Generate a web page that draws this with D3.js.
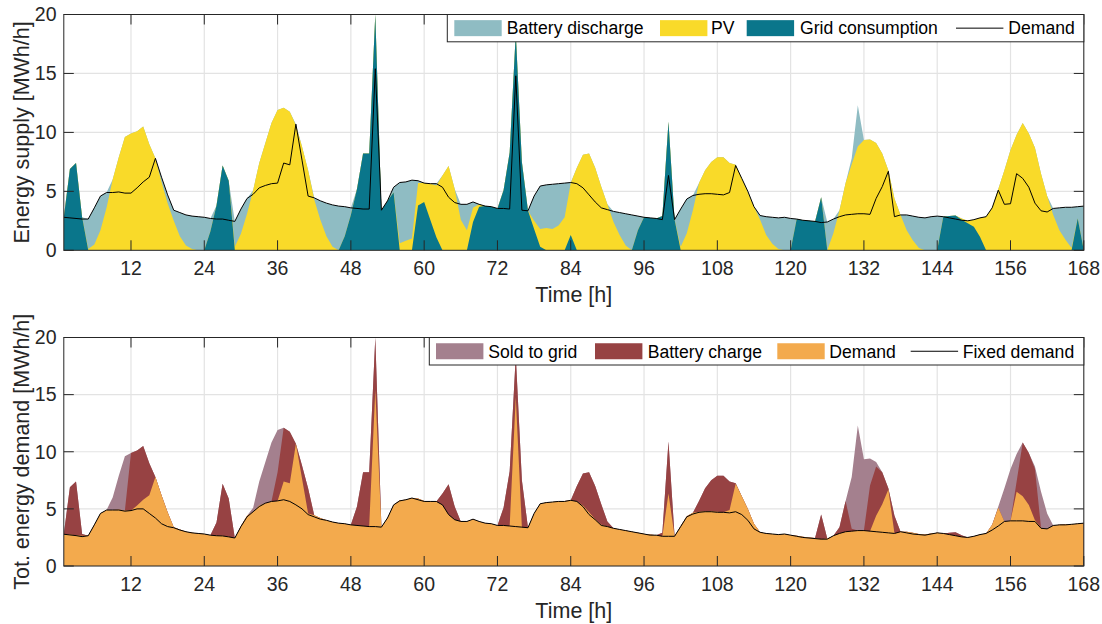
<html>
<head>
<script src="https://d3js.org/d3.v7.min.js"></script>
<style>
  body { margin: 0; background: #fff; }
  svg { font-family: "Liberation Sans", Arial, Helvetica, sans-serif; }
</style>
</head>
<body>
<svg id="plot"></svg>

<script>

// hours 1..168
var hours = d3.range(1, 169);

// top panel: supply (MWh/h), one value per hour, 12 per row
var gridUse = [
  2.8, 6.9, 7.4, 2.8, 0, 0, 0, 0, 0, 0, 0, 0,
  0, 0, 0, 0, 0, 0, 0, 0, 0, 0, 0, 0,
  1.6, 3.8, 7.2, 5.9, 0, 0, 0, 0, 0, 0, 0, 0,
  0, 0, 0, 0, 0, 0, 0, 0, 0, 0, 1.2, 3.0,
  5.2, 8.2, 8.2, 20, 3.4, 4.2, 4.9, 0, 0, 0, 3.8, 4.1,
  2.6, 1.1, 0, 0, 0, 0, 0, 2.4, 3.7, 3.75, 3.7, 3.55,
  5.1, 8.3, 18.4, 7.5, 3.35, 1.8, 0.3, 0, 0, 0, 0, 1.3,
  0, 0, 0, 0, 0, 0, 0, 0, 0, 0, 1.7, 2.8,
  2.75, 2.7, 2.9, 10.9, 2.6, 0, 0, 0, 0, 0, 0, 0,
  0, 0, 0, 0, 0, 0, 0, 0, 0, 0, 0, 0,
  2.65, 2.55, 2.5, 2.45, 4.5, 0, 0, 0, 0, 0, 0, 0,
  0, 0, 0, 0, 0, 0, 0, 0, 0, 0, 0, 0,
  2.85, 2.9, 2.95, 2.6, 2.3, 2.0, 1.15, 0, 0, 0, 0, 0,
  0, 0, 0, 0, 0, 0, 0, 0, 0, 0, 2.7, 0
];

var pv = [
  0, 0, 0, 0, 0.1, 0.5, 1.7, 3.6, 6.0, 7.9, 9.6, 9.9,
  10.1, 10.5, 9.0, 7.8, 5.8, 4.0, 2.5, 1.2, 0.4, 0.1, 0, 0,
  0, 0, 0, 0, 0.3, 1.4, 3.1, 5.1, 7.4, 9.1, 10.8, 11.9,
  12.1, 11.75, 10.6, 8.8, 6.8, 4.3, 2.6, 1.2, 0.3, 0, 0, 0,
  0, 0, 0, 0, 0, 0, 0, 0.6, 0.8, 1.0, 1.9, 1.6,
  3.05, 4.4, 6.35, 7.15, 5.2, 2.6, 1.7, 1.2, 0.2, 0, 0, 0,
  0, 0, 0, 0, 0, 0.7, 1.5, 1.9, 1.8, 2.1, 2.8, 4.4,
  7.0, 8.1, 8.2, 7.0, 5.4, 3.9, 2.4, 1.3, 0.4, 0, 0, 0,
  0, 0, 0, 0, 0, 0.3, 1.45, 3.4, 5.7, 6.8, 7.5, 7.9,
  7.9, 7.4, 7.25, 6.1, 4.9, 3.7, 2.6, 1.3, 0.55, 0.1, 0, 0,
  0, 0, 0, 0, 0, 0, 1.45, 3.4, 5.7, 7.3, 8.8, 9.35,
  9.4, 9.1, 8.2, 6.8, 4.4, 3.0, 1.7, 0.85, 0.2, 0, 0, 0,
  0, 0, 0, 0.1, 0.2, 0.6, 1.6, 2.85, 3.6, 5.2, 6.8, 8.5,
  9.8, 10.8, 9.9, 8.7, 6.5, 4.6, 3.0, 1.7, 0.9, 0.2, 0, 0
];

var discharge = [
  0, 0, 0, 0, 2.55, 3.1, 2.9, 1.3, 0, 0, 0, 0,
  0, 0, 0, 0, 0.4, 0.7, 0.9, 2.0, 2.6, 2.8, 2.85, 2.8,
  1.1, 0, 0, 0, 2.15, 2.1, 1.3, 0, 0, 0, 0, 0,
  0, 0, 0.1, 0, 0, 0.15, 1.6, 2.8, 3.55, 3.75, 2.5, 0.6,
  0, 0, 0, 0, 0, 0, 0.45, 5.15, 5.0, 4.95, 0.2, 0,
  0, 0.15, 0, 0, 0, 1.3, 2.2, 0.5, 0, 0, 0, 0,
  0, 0, 0, 0, 0, 2.1, 3.65, 3.65, 3.8, 3.55, 2.9, 0.05,
  0, 0, 0, 0, 0, 0, 0.9, 1.9, 2.7, 3.0, 1.2, 0,
  0, 0, 0, 0, 0, 3.2, 2.9, 1.25, 0, 0, 0, 0,
  0, 0, 0, 0, 0.1, 0, 0.35, 1.55, 2.25, 2.65, 2.8, 2.7,
  0, 0, 0, 0, 0, 2.4, 1.2, 0, 0, 0.5, 3.5, 0,
  0, 0, 0, 0, 0, 0, 1.3, 2.05, 2.6, 2.75, 2.85, 2.9,
  0, 0, 0, 0, 0, 0, 0, 0, 0, 0, 0, 0,
  0, 0, 0, 0, 0, 0, 0.55, 1.9, 2.75, 3.45, 1.0, 3.75
];

// total demand (line on top, orange area below)
var demand = [
  2.8, 2.75, 2.7, 2.65, 2.65, 3.6, 4.6, 4.9, 4.9, 4.95, 4.85, 4.85,
  5.3, 5.8, 6.2, 7.8, 6.2, 4.7, 3.4, 3.2, 3.0, 2.9, 2.85, 2.8,
  2.7, 2.65, 2.65, 2.55, 2.45, 3.5, 4.4, 4.75, 5.3, 5.5, 5.65, 5.7,
  7.4, 7.25, 10.7, 7.65, 4.6, 4.45, 4.2, 4.0, 3.85, 3.75, 3.7, 3.6,
  3.55, 3.5, 3.5, 15.4, 3.4, 4.2, 5.35, 5.75, 5.8, 5.95, 5.9, 5.7,
  5.65, 5.65, 5.35, 4.5, 4.05, 3.9, 3.9, 4.1, 3.9, 3.75, 3.7, 3.55,
  3.55, 3.5, 14.8, 3.4, 3.35, 4.6, 5.45, 5.55, 5.6, 5.65, 5.7, 5.75,
  5.65, 5.3, 4.7, 4.1, 3.6, 3.45, 3.3, 3.2, 3.1, 3.0, 2.9, 2.8,
  2.75, 2.7, 2.6, 6.35, 2.6, 3.5, 4.35, 4.65, 4.75, 4.8, 4.8, 4.75,
  4.7, 4.9, 7.2, 6.1, 5.0, 3.7, 2.95, 2.85, 2.8, 2.75, 2.8, 2.7,
  2.65, 2.55, 2.5, 2.45, 2.35, 2.4, 2.65, 2.85, 3.0, 3.05, 3.1, 3.1,
  3.05, 4.4, 5.4, 6.7, 2.85, 3.0, 3.0, 2.9, 2.8, 2.75, 2.85, 2.9,
  2.85, 2.75, 2.65, 2.55, 2.5, 2.6, 2.75, 2.85, 3.6, 5.1, 3.9, 3.95,
  6.5, 6.1, 5.35, 4.0, 3.35, 3.25, 3.55, 3.6, 3.65, 3.65, 3.7, 3.75
];

// bottom panel
var fixedDemand = [
  2.78, 2.72, 2.66, 2.57, 2.65, 3.6, 4.6, 4.9, 4.9, 4.9, 4.8, 4.85,
  5.0, 5.0, 4.6, 4.2, 3.7, 3.45, 3.35, 3.15, 3.0, 2.9, 2.85, 2.8,
  2.7, 2.65, 2.63, 2.55, 2.45, 3.45, 4.3, 4.75, 5.2, 5.5, 5.65, 5.7,
  5.8, 5.65, 5.35, 5.0, 4.5, 4.3, 4.1, 4.0, 3.85, 3.75, 3.7, 3.6,
  3.55, 3.5, 3.45, 3.45, 3.4, 4.2, 5.35, 5.7, 5.8, 5.95, 5.8, 5.65,
  5.65, 5.65, 5.35, 4.5, 4.05, 3.9, 3.9, 4.1, 3.9, 3.75, 3.7, 3.55,
  3.55, 3.5, 3.45, 3.4, 3.35, 4.6, 5.45, 5.55, 5.6, 5.65, 5.65, 5.75,
  5.65, 5.2, 4.5, 4.05, 3.55, 3.45, 3.3, 3.2, 3.1, 3.0, 2.9, 2.8,
  2.7, 2.7, 2.6, 2.6, 2.6, 3.45, 4.3, 4.55, 4.7, 4.75, 4.75, 4.7,
  4.7, 4.65, 4.75, 4.5, 4.0, 3.25, 2.95, 2.85, 2.8, 2.75, 2.8, 2.7,
  2.6, 2.5, 2.45, 2.4, 2.35, 2.35, 2.65, 2.85, 3.0, 3.05, 3.1, 3.1,
  3.05, 3.0, 2.95, 2.9, 2.85, 3.0, 2.9, 2.8, 2.75, 2.7, 2.8, 2.9,
  2.85, 2.75, 2.65, 2.55, 2.5, 2.6, 2.75, 2.85, 3.15, 3.5, 3.9, 3.95,
  3.95, 3.95, 3.9, 3.9, 3.3, 3.25, 3.55, 3.6, 3.6, 3.65, 3.7, 3.75
];

var charge = [
  0, 4.15, 4.7, 0.15, 0, 0, 0, 0, 0, 0, 0, 5.05,
  4.8, 4.7, 2.8, 0, 0, 0, 0, 0, 0, 0, 0, 0,
  0, 1.15, 4.55, 3.35, 0, 0, 0, 0, 0, 0, 0, 2.5,
  4.7, 4.5, 0, 1.15, 2.2, 0, 0, 0, 0, 0, 0, 0,
  1.65, 4.7, 4.7, 4.6, 0, 0, 0, 0, 0, 0, 0, 0,
  0, 0, 1.0, 2.65, 1.15, 0, 0, 0, 0, 0, 0, 0,
  1.55, 4.8, 3.6, 4.1, 0, 0, 0, 0, 0, 0, 0, 0,
  1.35, 2.8, 3.5, 2.9, 1.8, 0.45, 0, 0, 0, 0, 0, 0,
  0, 0, 0.3, 4.55, 0, 0, 0, 0, 0.95, 2.0, 2.7, 3.15,
  3.2, 2.5, 0.05, 0, 0, 0, 0, 0, 0, 0, 0, 0,
  0, 0, 0, 0, 2.15, 0, 0, 0.55, 2.7, 0.2, 0, 0,
  4.0, 4.3, 2.8, 0.1, 1.55, 0, 0, 0, 0, 0, 0, 0,
  0, 0.15, 0.3, 0.15, 0, 0, 0, 0, 0, 0, 0, 0,
  0.9, 4.7, 4.55, 4.5, 0, 0, 0, 0, 0, 0, 0, 0
];

var sold = [
  0, 0, 0, 0, 0, 0, 0, 0, 1.1, 2.95, 4.75, 0,
  0, 0, 0, 0, 0, 0, 0, 0, 0, 0, 0, 0,
  0, 0, 0, 0, 0, 0, 0, 0.35, 2.1, 3.6, 5.15, 3.7,
  0, 0, 0, 0, 0, 0, 0, 0, 0, 0, 0, 0,
  0, 0, 0, 0, 0, 0, 0, 0, 0, 0, 0, 0,
  0, 0, 0, 0, 0, 0, 0, 0, 0, 0, 0, 0,
  0, 0, 0, 0, 0, 0, 0, 0, 0, 0, 0, 0,
  0, 0, 0, 0, 0, 0, 0, 0, 0, 0, 0, 0,
  0, 0, 0, 0, 0, 0, 0, 0, 0, 0, 0, 0,
  0, 0, 0, 0, 0, 0, 0, 0, 0, 0, 0, 0,
  0, 0, 0, 0, 0, 0, 0, 0, 0, 4.55, 9.2, 6.25,
  2.35, 0.4, 0, 0, 0, 0, 0, 0, 0, 0, 0, 0,
  0, 0, 0, 0, 0, 0, 0, 0, 0, 0.1, 2.9, 4.55,
  2.4, 0, 0, 0.2, 3.15, 1.35, 0, 0, 0, 0, 0, 0
];

var xTicks = d3.range(12, 169, 12);
var yTicks = [0, 5, 10, 15, 20];

var colors = {
  discharge: "#8fbcc3",
  pv: "#f9da29",
  grid: "#0a768b",
  sold: "#a4808e",
  charge: "#974243",
  demand: "#f3aa4d"
};

// one row per hour
var rows = hours.map(function(h, i) {
  return {
    hour: h,
    grid: gridUse[i],
    pv: pv[i],
    discharge: discharge[i],
    demand: demand[i],
    charge: charge[i],
    sold: sold[i],
    fixed: fixedDemand[i]
  };
});

var width = 1102;
var height = 624;
var left = 63.8;
var right = 1083.8;

var svg = d3.select("#plot")
    .attr("width", width)
    .attr("height", height);

var xScale = d3.scaleLinear()
    .domain([1, 168])
    .range([left, right]);

var axisColor = "#262626";

var drawPanel = function(p)
{
    var yScale = d3.scaleLinear()
        .domain([0, 20])
        .range([p.bottom, p.top]);

    var g = svg.append("g");

    // grid
    g.selectAll(".vgrid")
        .data(xTicks)
        .enter()
        .append("line")
        .attr("x1", function(d) { return xScale(d); })
        .attr("x2", function(d) { return xScale(d); })
        .attr("y1", p.top)
        .attr("y2", p.bottom)
        .attr("stroke", "#e3e3e3")
        .attr("stroke-width", 1.2);

    g.selectAll(".hgrid")
        .data(yTicks)
        .enter()
        .append("line")
        .attr("x1", left)
        .attr("x2", right)
        .attr("y1", function(d) { return yScale(d); })
        .attr("y2", function(d) { return yScale(d); })
        .attr("stroke", "#e3e3e3")
        .attr("stroke-width", 1.2);

    // clip
    svg.append("clipPath")
        .attr("id", p.id + "clip")
        .append("rect")
        .attr("x", left)
        .attr("y", p.top)
        .attr("width", right - left)
        .attr("height", p.bottom - p.top);

    var plotArea = g.append("g")
        .attr("clip-path", "url(#" + p.id + "clip)");

    // stacked areas, drawn as cumulative fills from zero (top layer first)
    var stacked = d3.stack().keys(p.keys)(rows);

    var area = d3.area()
        .x(function(d) { return xScale(d.data.hour); })
        .y0(yScale(0))
        .y1(function(d) { return yScale(d[1]); });

    plotArea.selectAll(".layer")
        .data(stacked.slice().reverse())
        .enter()
        .append("path")
        .attr("d", area)
        .attr("fill", function(s) { return colors[s.key]; });

    // line
    var line = d3.line()
        .x(function(d) { return xScale(d.hour); })
        .y(function(d) { return yScale(d[p.lineKey]); });

    plotArea.append("path")
        .datum(rows)
        .attr("d", line)
        .attr("fill", "none")
        .attr("stroke", "#000")
        .attr("stroke-width", 1);

    // ticks (inside, all four sides)
    var tl = 10;
    xTicks.forEach(function(t) {
        var x = xScale(t);
        g.append("line").attr("x1", x).attr("x2", x)
            .attr("y1", p.bottom).attr("y2", p.bottom - tl)
            .attr("stroke", axisColor);
        g.append("line").attr("x1", x).attr("x2", x)
            .attr("y1", p.top).attr("y2", p.top + tl)
            .attr("stroke", axisColor);
    });
    yTicks.forEach(function(t) {
        var y = yScale(t);
        g.append("line").attr("x1", left).attr("x2", left + tl)
            .attr("y1", y).attr("y2", y)
            .attr("stroke", axisColor);
        g.append("line").attr("x1", right).attr("x2", right - tl)
            .attr("y1", y).attr("y2", y)
            .attr("stroke", axisColor);
    });

    // box
    g.append("rect")
        .attr("x", left)
        .attr("y", p.top)
        .attr("width", right - left)
        .attr("height", p.bottom - p.top)
        .attr("fill", "none")
        .attr("stroke", axisColor)
        .attr("stroke-width", 1);

    // tick labels
    g.selectAll(".xlab")
        .data(xTicks)
        .enter()
        .append("text")
        .attr("x", function(d) { return xScale(d); })
        .attr("y", p.bottom + 25)
        .attr("text-anchor", "middle")
        .attr("font-size", "19.5px")
        .attr("fill", axisColor)
        .text(function(d) { return d; });

    g.selectAll(".ylab")
        .data(yTicks)
        .enter()
        .append("text")
        .attr("x", 56.5)
        .attr("y", function(d) { return yScale(d); })
        .attr("dy", "0.35em")
        .attr("text-anchor", "end")
        .attr("font-size", "19.5px")
        .attr("fill", axisColor)
        .text(function(d) { return d; });

    // axis labels
    g.append("text")
        .attr("x", (left + right) / 2)
        .attr("y", p.bottom + 51.5)
        .attr("text-anchor", "middle")
        .attr("font-size", "21.5px")
        .attr("fill", axisColor)
        .text("Time [h]");

    g.append("text")
        .attr("transform", "translate(29," + ((p.top + p.bottom) / 2) + ") rotate(-90)")
        .attr("text-anchor", "middle")
        .attr("font-size", "21.5px")
        .attr("fill", axisColor)
        .text(p.yLabel);

    // legend
    var lg = g.append("g");
    var lh = p.legendHeight;
    var mid = p.top + lh / 2;
    lg.append("rect")
        .attr("x", p.legendLeft)
        .attr("y", p.top)
        .attr("width", right - p.legendLeft)
        .attr("height", lh)
        .attr("fill", "#fff")
        .attr("stroke", axisColor)
        .attr("stroke-width", 1);

    p.legend.forEach(function(item) {
        if (item.key) {
            lg.append("rect")
                .attr("x", item.x)
                .attr("y", mid - 8)
                .attr("width", 47.4)
                .attr("height", 16)
                .attr("fill", colors[item.key]);
        } else {
            lg.append("line")
                .attr("x1", item.x)
                .attr("x2", item.x + 47.4)
                .attr("y1", mid)
                .attr("y2", mid)
                .attr("stroke", "#000")
                .attr("stroke-width", 1);
        }
        lg.append("text")
            .attr("x", item.tx)
            .attr("y", mid)
            .attr("dy", "0.36em")
            .attr("font-size", "17.6px")
            .attr("fill", "#000")
            .text(item.label);
    });
}

//top: energy supply
drawPanel({
    id: "top",
    top: 14.5,
    bottom: 250.3,
    keys: ["grid", "pv", "discharge"],
    lineKey: "demand",
    yLabel: "Energy supply [MWh/h]",
    legendLeft: 447.3,
    legendHeight: 27.3,
    legend: [
        {key: "discharge", label: "Battery discharge", x: 454.3, tx: 506.7},
        {key: "pv", label: "PV", x: 660, tx: 711},
        {key: "grid", label: "Grid consumption", x: 746.7, tx: 800},
        {key: null, label: "Demand", x: 956, tx: 1008.3}
    ]
});

//bottom: total energy demand
drawPanel({
    id: "bottom",
    top: 337.5,
    bottom: 566,
    keys: ["demand", "charge", "sold"],
    lineKey: "fixed",
    yLabel: "Tot. energy demand [MWh/h]",
    legendLeft: 429.3,
    legendHeight: 27.5,
    legend: [
        {key: "sold", label: "Sold to grid", x: 436, tx: 488.3},
        {key: "charge", label: "Battery charge", x: 595, tx: 647.7},
        {key: "demand", label: "Demand", x: 777.3, tx: 829.3},
        {key: null, label: "Fixed demand", x: 910.7, tx: 962.7}
    ]
});

</script>
</body>
</html>
